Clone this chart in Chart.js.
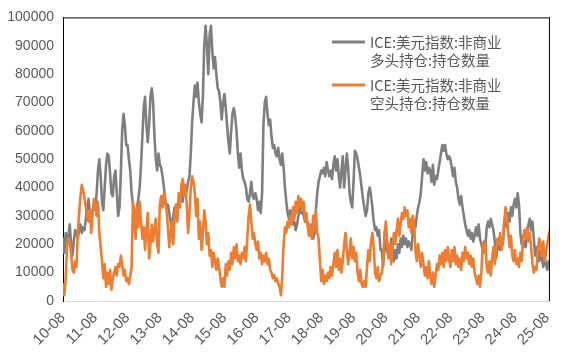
<!DOCTYPE html>
<html>
<head>
<meta charset="utf-8">
<script src="https://cdn.jsdelivr.net/npm/chart.js@4.4.1/dist/chart.umd.min.js"></script>
<style>
html,body{margin:0;padding:0;background:#fff;}
</style>
</head>
<body>
<canvas id="c" width="568" height="364"></canvas>
<script>
// semi-monthly points, values in thousands of contracts
let yearLabels = ['10-08','11-08','12-08','13-08','14-08','15-08','16-08','17-08',
  '18-08','19-08','20-08','21-08','22-08','23-08','24-08','25-08'];
let longName = ['ICE:美元指数:非商业', '多头持仓:持仓数量'];
let shortName = ['ICE:美元指数:非商业', '空头持仓:持仓数量'];

let longPos = [
  22,17,24,21,23,27,20,16,21,25,24,22,25,27,24,26,25,29,33,36,31,28,32,34,
  32,38,46,50,44,35,32,40,48,52,51,45,38,37,44,46,38,30,33,45,60,66,62,55,
  55,50,46,38,34,31,30,33,36,40,48,58,68,72,62,56,62,72,75,70,58,50,46,52,
  48,47,44,40,36,33,34,31,28,25,30,33,32,34,33,36,38,35,40,37,39,42,44,
  52,63,70,76,72,77,70,66,63,72,90,97,90,80,94,97,88,82,86,80,75,74,70,64,
  70,73,68,62,56,52,60,66,68,65,60,52,47,52,46,43,42,40,36,35,38,42,37,36,
  38,36,32,35,31,38,62,70,72,66,62,64,58,54,55,52,51,54,50,48,52,47,40,
  35,31,29,32,30,27,28,25,27,30,34,31,32,30,28,29,27,23,25,24,22,24,32,38,
  42,44,46,45,47,44,49,46,44,46,43,48,51,46,50,44,40,46,51,40,46,52,47,
  38,35,33,42,53,52,50,47,44,40,36,33,30,32,38,40,37,33,28,25,26,23,25,18,
  18,12,20,21,17,20,16,22,19,14,18,15,20,17,22,19,23,20,22,19,21,20,18,
  24,28,26,30,33,35,38,44,50,46,49,45,47,46,42,48,41,44,43,46,49,52,55,53,
  55,52,50,51,50,47,44,47,42,40,36,34,37,33,30,27,25,23,25,22,24,21,23,
  26,23,27,22,20,18,21,19,26,28,26,29,27,25,21,15,19,20,18,21,20,27,29,26,
  31,28,33,30,34,36,33,38,34,24,20,19,21,19,24,27,29,25,28,22,16,19,17,14,
  18,15,12,16,13,11,14,12
];

let shortPos = [
  6,2,8,19,22,21,17,11,10,14,12,24,31,37,41,39,36,33,30,28,32,24,31,36,
  34,30,35,24,19,14,8,13,5,10,6,11,4,8,10,12,9,13,12,16,13,9,11,7,
  8,6,9,12,35,30,22,33,26,35,28,22,26,18,25,31,15,20,27,21,25,29,20,17,
  34,37,33,38,35,32,26,19,24,28,20,30,34,28,38,33,41,43,37,41,34,24,30,
  40,44,42,38,30,36,22,28,18,24,32,28,20,24,16,18,12,17,14,11,15,12,8,5,
  8,5,13,9,14,11,17,13,19,15,20,14,16,13,17,15,19,14,22,30,34,28,22,24,
  20,18,21,15,17,13,16,14,17,13,15,11,10,8,9,7,8,6,5,2,9,20,26,
  24,28,26,30,27,33,29,35,31,37,33,36,32,35,28,31,26,23,27,22,30,25,32,24,
  22,14,7,11,6,9,7,10,8,12,9,13,17,12,18,11,15,10,14,20,24,18,13,
  17,22,15,19,14,17,10,7,11,6,5,7,5,12,18,14,21,24,19,10,8,12,7,9,
  10,14,24,28,21,15,20,13,19,24,20,25,29,23,27,31,29,33,30,32,26,29,24,
  30,28,18,14,20,16,12,17,13,9,12,8,14,9,6,10,5,9,13,11,16,13,17,12,
  18,14,19,15,12,18,14,19,13,16,12,15,11,17,14,19,15,17,13,16,12,15,10,
  8,6,9,5,10,20,17,21,12,10,14,9,15,19,13,18,22,20,24,18,21,28,33,30,
  24,19,23,16,14,18,13,15,12,17,14,22,25,22,26,21,24,19,13,10,12,11,18,22,
  20,16,21,14,17,20,23,25
];

let perYear = 24;
let grayColor = '#7f7f7f';
let orangeColor = '#ed7d31';
let textColor = '#595959';
let tickFont = {family: '"Liberation Sans", Arial, sans-serif', size: 15};

let toPoints = arr => arr.map((v, i) => ({x: i, y: v * 1000}));

let frameAndLegend = {
  id: 'frameAndLegend',
  afterDraw(chart){
    let ctx = chart.ctx;
    let a = chart.chartArea;
    ctx.save();
    ctx.strokeStyle = '#000';
    ctx.lineWidth = 1;
    ctx.beginPath();
    ctx.moveTo(a.left, a.top + 0.5);
    ctx.lineTo(a.right, a.top + 0.5);
    ctx.moveTo(a.right - 0.5, a.top);
    ctx.lineTo(a.right - 0.5, a.bottom);
    ctx.stroke();

    let items = [[longName, grayColor, 42], [shortName, orangeColor, 85]];
    ctx.font = '14.5px "Noto Sans CJK SC", sans-serif';
    ctx.textBaseline = 'middle';
    ctx.fillStyle = textColor;
    for(let item of items)
    {
      ctx.strokeStyle = item[1];
      ctx.lineWidth = 3;
      ctx.beginPath();
      ctx.moveTo(332, item[2]);
      ctx.lineTo(365, item[2]);
      ctx.stroke();
      item[0].forEach((line, k) => ctx.fillText(line, 370, item[2] + k * 18.5));
    }
    ctx.restore();
  }
};

new Chart(document.getElementById('c'), {
  type: 'line',
  data: {
    datasets: [
      {
        label: longName.join(''),
        data: toPoints(longPos),
        borderColor: grayColor,
        order: 2
      },
      {
        label: shortName.join(''),
        data: toPoints(shortPos),
        borderColor: orangeColor,
        order: 1
      }
    ]
  },
  options: {
    responsive: false,
    animation: false,
    devicePixelRatio: 1,
    layout: {padding: {top: 11, right: 4, left: 0, bottom: 0}},
    elements: {
      point: {radius: 0},
      line: {borderWidth: 2.6, tension: 0, borderJoinStyle: 'round', borderCapStyle: 'round'}
    },
    plugins: {legend: {display: false}, tooltip: {enabled: false}},
    scales: {
      x: {
        type: 'linear',
        min: 0,
        max: longPos.length - 1,
        afterBuildTicks: ax => { ax.ticks = yearLabels.map((l, k) => ({value: k * perYear})); },
        afterFit: ax => { ax.height = 63; },
        ticks: {
          autoSkip: false,
          maxRotation: 45,
          minRotation: 45,
          padding: 8,
          color: textColor,
          font: tickFont,
          callback: v => yearLabels[Math.round(v / perYear)]
        },
        grid: {display: false, drawTicks: false},
        border: {display: true, color: '#d9d9d9', width: 1}
      },
      y: {
        min: 0,
        max: 100000,
        afterFit: ax => { ax.width = 63; },
        ticks: {
          stepSize: 10000,
          padding: 9,
          color: textColor,
          font: {family: '"Liberation Sans", Arial, sans-serif', size: 14},
          callback: v => String(v)
        },
        grid: {display: false, drawTicks: false},
        border: {display: true, color: '#000', width: 1}
      }
    }
  },
  plugins: [frameAndLegend]
});
</script>
</body>
</html>
